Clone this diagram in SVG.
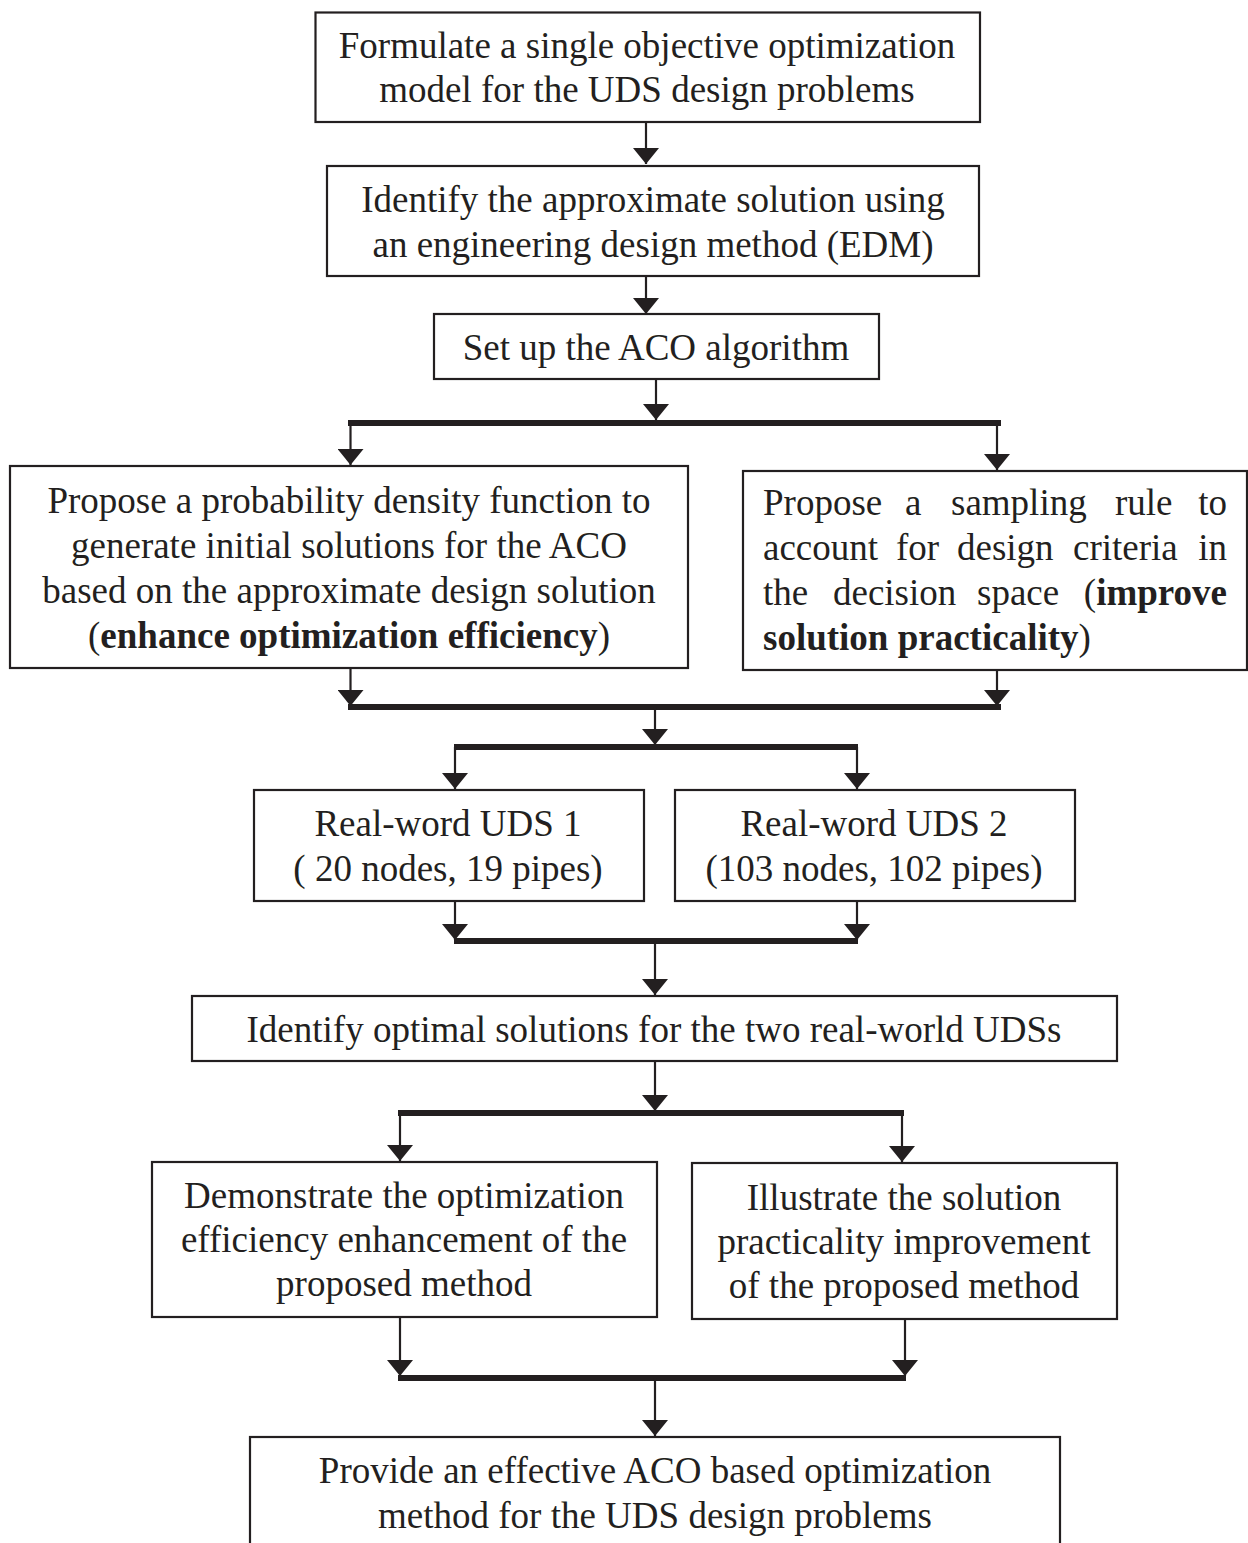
<svg xmlns="http://www.w3.org/2000/svg" width="1248" height="1543" viewBox="0 0 1248 1543">
<defs>
<style>
.box{fill:#fff;stroke:#231f20;stroke-width:2.2}
.t{font-family:"Liberation Serif","Times New Roman",serif;font-size:37px;fill:#231f20}
.c{text-anchor:middle}
.e{text-anchor:end}
.b{font-weight:bold}
.ln{stroke:#231f20;stroke-width:2.2;fill:none}
.arr{marker-end:url(#ah)}
.bar{stroke:#231f20;stroke-width:6;fill:none}
</style>
<marker id="ah" viewBox="0 0 16 26" refX="16" refY="13" markerWidth="16" markerHeight="26" markerUnits="userSpaceOnUse" orient="auto">
<path d="M0,0 L16,13 L0,26 Z" fill="#231f20"/>
</marker>
</defs>
<rect width="1248" height="1543" fill="#fff"/>

<g id="connectors">
<line class="ln arr" x1="646" y1="122" x2="646" y2="164"/>
<line class="ln arr" x1="646" y1="276" x2="646" y2="314"/>
<line class="ln arr" x1="656" y1="379" x2="656" y2="420"/>
<line class="bar" x1="348" y1="423" x2="1001" y2="423"/>
<line class="ln arr" x1="350.5" y1="423" x2="350.5" y2="465"/>
<line class="ln arr" x1="997" y1="423" x2="997" y2="470"/>
<line class="ln arr" x1="350.5" y1="668" x2="350.5" y2="706"/>
<line class="ln arr" x1="997" y1="670" x2="997" y2="706"/>
<line class="bar" x1="348" y1="707" x2="1001" y2="707"/>
<line class="ln arr" x1="655" y1="707" x2="655" y2="745"/>
<line class="bar" x1="454" y1="747" x2="858" y2="747"/>
<line class="ln arr" x1="455" y1="747" x2="455" y2="789"/>
<line class="ln arr" x1="857" y1="747" x2="857" y2="789"/>
<line class="ln arr" x1="455" y1="901" x2="455" y2="940"/>
<line class="ln arr" x1="857" y1="901" x2="857" y2="940"/>
<line class="bar" x1="454" y1="941" x2="858" y2="941"/>
<line class="ln arr" x1="655" y1="941" x2="655" y2="995"/>
<line class="ln arr" x1="655" y1="1061" x2="655" y2="1111"/>
<line class="bar" x1="398" y1="1113" x2="904" y2="1113"/>
<line class="ln arr" x1="400" y1="1113" x2="400" y2="1161"/>
<line class="ln arr" x1="902" y1="1113" x2="902" y2="1162"/>
<line class="ln arr" x1="400" y1="1317" x2="400" y2="1376"/>
<line class="ln arr" x1="905" y1="1319" x2="905" y2="1376"/>
<line class="bar" x1="398" y1="1378" x2="906" y2="1378"/>
<line class="ln arr" x1="655" y1="1378" x2="655" y2="1436"/>
</g>

<g id="n1">
<rect class="box" x="315.5" y="12.5" width="664.5" height="109.5"/>
<text class="t c" x="647" y="58">Formulate a single objective optimization</text>
<text class="t c" x="647" y="102">model for the UDS design problems</text>
</g>

<g id="n2">
<rect class="box" x="327" y="166" width="652" height="110"/>
<text class="t c" x="653" y="212">Identify the approximate solution using</text>
<text class="t c" x="653" y="257">an engineering design method (EDM)</text>
</g>

<g id="n3">
<rect class="box" x="434" y="314" width="445" height="65"/>
<text class="t c" x="656" y="360">Set up the ACO algorithm</text>
</g>

<g id="n4">
<rect class="box" x="10" y="466" width="678" height="202"/>
<text class="t c" x="349" y="513">Propose a probability density function to</text>
<text class="t c" x="349" y="558">generate initial solutions for the ACO</text>
<text class="t c" x="349" y="603">based on the approximate design solution</text>
<text class="t c" x="349" y="648">(<tspan class="b">enhance optimization efficiency</tspan>)</text>
</g>

<g id="n5">
<rect class="box" x="743" y="471" width="504" height="199"/>
<text class="t" y="515"><tspan x="763">Propose</tspan><tspan x="905">a</tspan><tspan x="951">sampling</tspan><tspan x="1115">rule</tspan></text>
<text class="t e" x="1227" y="515">to</text>
<text class="t" y="560"><tspan x="763">account</tspan><tspan x="896">for</tspan><tspan x="957">design</tspan><tspan x="1073">criteria</tspan></text>
<text class="t e" x="1227" y="560">in</text>
<text class="t" y="605"><tspan x="763">the</tspan><tspan x="833">decision</tspan><tspan x="977">space</tspan></text>
<text class="t e" x="1227" y="605">(<tspan class="b">improve</tspan></text>
<text class="t" x="763" y="650"><tspan class="b">solution practicality</tspan>)</text>
</g>

<g id="n6">
<rect class="box" x="254" y="790" width="390" height="111"/>
<text class="t c" x="448" y="836">Real-word UDS 1</text>
<text class="t c" x="448" y="881">( 20 nodes, 19 pipes)</text>
</g>

<g id="n7">
<rect class="box" x="675" y="790" width="400" height="111"/>
<text class="t c" x="874" y="836">Real-word UDS 2</text>
<text class="t c" x="874" y="881">(103 nodes, 102 pipes)</text>
</g>

<g id="n8">
<rect class="box" x="192" y="996" width="925" height="65"/>
<text class="t c" x="654" y="1042">Identify optimal solutions for the two real-world UDSs</text>
</g>

<g id="n9">
<rect class="box" x="152" y="1162" width="505" height="155"/>
<text class="t c" x="404" y="1208">Demonstrate the optimization</text>
<text class="t c" x="404" y="1252">efficiency enhancement of the</text>
<text class="t c" x="404" y="1296">proposed method</text>
</g>

<g id="n10">
<rect class="box" x="692" y="1163" width="425" height="156"/>
<text class="t c" x="904" y="1210">Illustrate the solution</text>
<text class="t c" x="904" y="1254">practicality improvement</text>
<text class="t c" x="904" y="1298">of the proposed method</text>
</g>

<g id="n11">
<rect class="box" x="250" y="1437" width="810" height="130"/>
<text class="t c" x="655" y="1483">Provide an effective ACO based optimization</text>
<text class="t c" x="655" y="1528">method for the UDS design problems</text>
</g>
</svg>
